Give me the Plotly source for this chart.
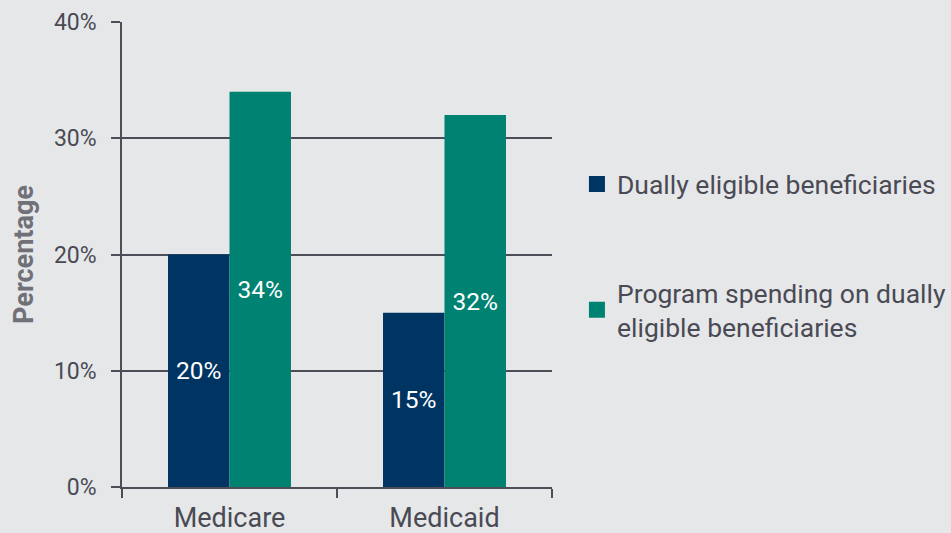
import plotly.graph_objects as go

categories = ["Medicare", "Medicaid"]
dual_benef = [20, 15]
program_spending = [34, 32]
series_names = ["Dually eligible beneficiaries", "Program spending on dually<br>eligible beneficiaries"]
colors = ["#003462", "#008272"]

bg = "#e6e7e9"
axis_col = "#4d4d57"
text_col = "#4a4a54"

fig = go.Figure()
for i, vals in enumerate([dual_benef, program_spending]):
    fig.add_trace(go.Bar(
        x=categories, y=vals, name=series_names[i],
        marker=dict(color=colors[i], line=dict(width=0)),
        text=[f"{v}%" for v in vals],
        textposition="inside", insidetextanchor="middle",
        textfont=dict(color="white", size=24.5, family="Roboto"),
        legendgroup=f"g{i}", showlegend=False,
    ))
# legend-only entries with larger square swatches
for i in range(2):
    fig.add_trace(go.Scatter(
        x=[None], y=[None], mode="markers", name=series_names[i],
        marker=dict(symbol="square", size=16, color=colors[i], line=dict(width=0)),
        legendgroup=f"g{i}", showlegend=True, hoverinfo="skip",
    ))

fig.update_layout(
    width=951, height=533,
    paper_bgcolor=bg, plot_bgcolor=bg,
    margin=dict(l=122, r=399, t=22, b=46, autoexpand=False),
    barmode="group", bargap=0.428, bargroupgap=0,
    font=dict(family="Roboto", color=text_col, size=23),
    showlegend=True,
    legend=dict(x=1.058, y=0.497, xanchor="left", yanchor="middle",
                font=dict(size=26.5, color=text_col), tracegroupgap=71,
                bgcolor="rgba(0,0,0,0)", itemwidth=30, itemsizing="trace"),
    uniformtext=dict(mode=False),
)
fig.update_xaxes(
    showline=True, linecolor=axis_col, linewidth=1.5, automargin=False,
    ticks="outside", tickson="boundaries", ticklen=9, tickcolor=axis_col, tickwidth=1.5,
    tickfont=dict(size=27, color=text_col), showgrid=False, ticklabelstandoff=6,
)
fig.update_yaxes(
    range=[0, 40], dtick=10, ticksuffix="%", automargin=False,
    showline=True, linecolor=axis_col, linewidth=1.5,
    ticks="outside", ticklen=9, tickcolor=axis_col, tickwidth=1.5,
    showgrid=True, gridcolor=axis_col, gridwidth=1.5, zeroline=False,
    tickfont=dict(size=23, color=text_col), ticklabelstandoff=10,
    title=dict(text="<b>Percentage</b>", font=dict(size=27, color="#707078"), standoff=12),
)

fig.write_html("out.html")
